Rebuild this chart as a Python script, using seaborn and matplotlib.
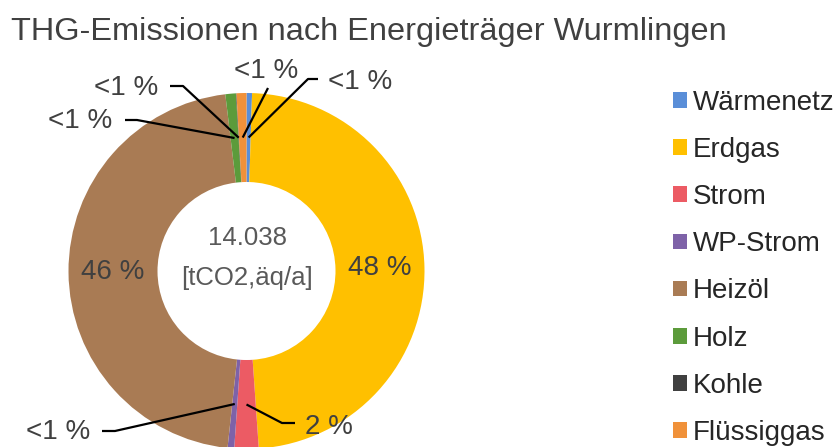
import numpy as np
import matplotlib
matplotlib.use("Agg")
import matplotlib.pyplot as plt
import seaborn as sns

# ---------------- data ----------------
categories = ["Wärmenetz", "Erdgas", "Strom", "WP-Strom", "Heizöl", "Holz", "Kohle", "Flüssiggas"]
shares = [0.5, 48.4, 2.2, 0.6, 46.4, 0.95, 0.05, 0.9]   # % of total emissions
colors = ["#5A8ED8", "#FFC000", "#EC5B64", "#7E62A8", "#A97B54", "#5C9B3B", "#404040", "#F0913A"]
total_label = "14.038"
unit_label = "[tCO2,äq/a]"
title = "THG-Emissionen nach Energieträger Wurmlingen"

# ---------------- style ----------------
sns.set_theme(style="white")
plt.rcParams["font.family"] = ["Liberation Sans", "DejaVu Sans"]

W, H = 839, 447
fig = plt.figure(figsize=(W / 100, H / 100), dpi=100)
ax = fig.add_axes([0, 0, 1, 1])


def P(x, y):
    """pixel coords (y from top) -> data coords"""
    return (x, H - y)


cx, cy = P(246.5, 271)
R = 178
wedges, _ = ax.pie(shares, colors=colors, startangle=90, counterclock=False,
                   radius=R, center=(cx, cy),
                   wedgeprops=dict(width=R * 0.5, linewidth=0))
ax.set_xlim(0, W)
ax.set_ylim(0, H)
ax.set_aspect("auto")
ax.axis("off")

total = float(np.sum(shares))
cum = np.concatenate([[0], np.cumsum(shares)[:-1]])
rmid = R * 0.75


def mid_point(i):
    frac = (cum[i] + shares[i] / 2) / total
    th = np.deg2rad(90 - 360 * frac)
    return cx + rmid * np.cos(th), cy + rmid * np.sin(th)


def pct_text(i):
    p = shares[i] / total * 100
    return "<1 %" if p < 1 else f"{p:.0f} %"


lab_kw = dict(fontsize=20, color="#404040")

# in-slice labels for big slices
for i in (1, 4):
    x, y = mid_point(i)
    ax.text(x, y, pct_text(i), ha="center", va="center", **lab_kw)

# outside labels with leader lines: (index, elbow, line end, text pos, ha)
leaders = [
    (0, P(308, 79), P(318, 79), P(328, 82), "left"),
    (7, P(268, 88), P(268, 88), P(266, 71), "center"),
    (6, P(183, 86), P(170, 86), P(158, 88), "right"),
    (5, P(137, 120), P(125, 120), P(112, 121), "right"),
    (3, P(115, 431), P(102, 431), P(90, 432), "right"),
    (2, P(282, 423), P(295, 423), P(305, 427), "left"),
]
for i, elbow, end, tpos, ha in leaders:
    x0, y0 = mid_point(i)
    ax.plot([x0, elbow[0], end[0]], [y0, elbow[1], end[1]], color="black", lw=1.6,
            solid_capstyle="butt")
    ax.text(tpos[0], tpos[1], pct_text(i), ha=ha, va="center", **lab_kw)

# centre text
ax.text(*P(247, 238), total_label, ha="center", va="center", fontsize=18.5, color="#595959")
ax.text(*P(247, 278), unit_label, ha="center", va="center", fontsize=18.5, color="#595959")

# title
ax.text(*P(11, 40), title, ha="left", va="baseline", fontsize=23.4, color="#404040")

# legend
ax.legend(wedges, categories, loc="upper left",
          bbox_to_anchor=(673 / W, 1 - 90 / H), bbox_transform=fig.transFigure,
          frameon=False, borderpad=0, borderaxespad=0, handlelength=0.5, handleheight=0.5,
          handletextpad=0.2, labelspacing=0.76, fontsize=20, labelcolor="#262626")

fig.savefig("out.png", dpi=100)
